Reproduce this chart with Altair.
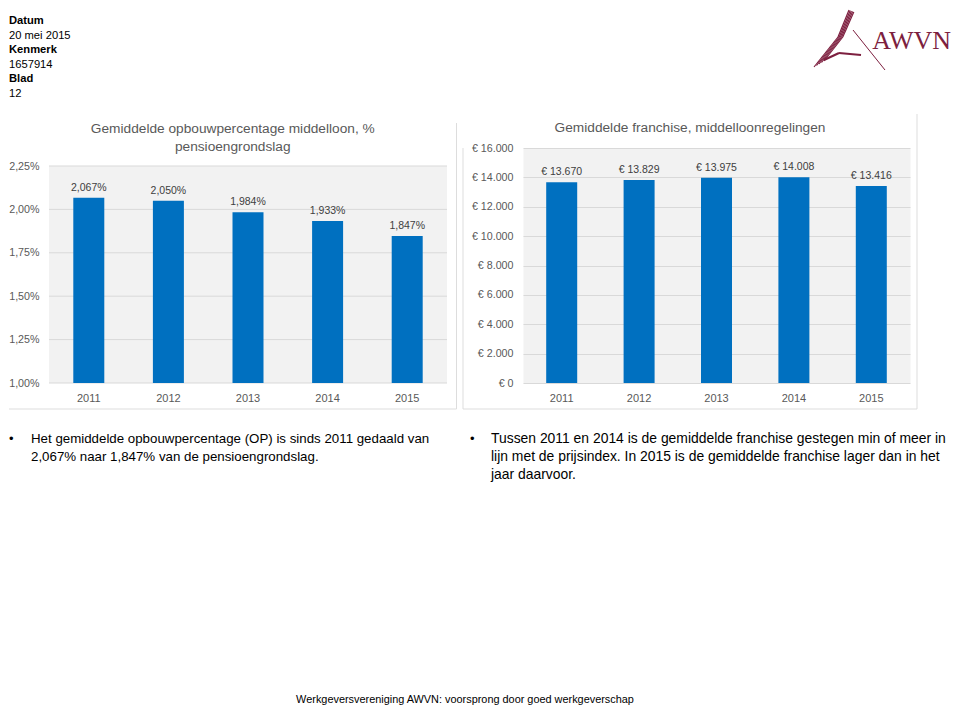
import altair as alt
import pandas as pd

FONT = "Liberation Sans"

# ---- data ----
years = ["2011", "2012", "2013", "2014", "2015"]
opbouw = [2.067, 2.050, 1.984, 1.933, 1.847]          # % pensioengrondslag
franchise = [13670, 13829, 13975, 14008, 13416]       # euro
opbouw_ticks = [1.00, 1.25, 1.50, 1.75, 2.00, 2.25]
franchise_ticks = [0, 2000, 4000, 6000, 8000, 10000, 12000, 14000, 16000]

title_left = ["Gemiddelde opbouwpercentage middelloon, %", "pensioengrondslag"]
title_right = "Gemiddelde franchise, middelloonregelingen"

header_labels = ["Datum", "Kenmerk", "Blad"]
header_values = ["20 mei 2015", "1657914", "12"]
logo_text = "AWVN"

bullet_left = ["Het gemiddelde opbouwpercentage (OP) is sinds 2011 gedaald van",
               "2,067% naar 1,847% van de pensioengrondslag."]
bullet_right = ["Tussen 2011 en 2014 is de gemiddelde franchise gestegen min of meer in",
                "lijn met de prijsindex. In 2015 is de gemiddelde franchise lager dan in het",
                "jaar daarvoor."]
footer_text = "Werkgeversvereniging AWVN: voorsprong door goed werkgeverschap"

BLUE = "#0070C0"
AXIS_GREY = "#595959"
LABEL_GREY = "#404040"
GRID = "#D9D9D9"
BG = "#F2F2F2"
FRAME = "#DDDDDD"
MAROON = "#7D1F3F"

ONE = pd.DataFrame({"a": [0]})


def txt(s, x, y, size=13, bold=False, color="black", align="left", font=FONT):
    return alt.Chart(pd.DataFrame({"t": [s]})).mark_text(
        align=align, baseline="middle", fontSize=size,
        fontWeight="bold" if bold else "normal", color=color, font=font
    ).encode(x=alt.value(x), y=alt.value(y), text="t:N")


def seg(x1, y1, x2, y2, w=1.0, color=MAROON):
    return alt.Chart(ONE).mark_rule(color=color, strokeWidth=w).encode(
        x=alt.value(x1), y=alt.value(y1), x2=alt.value(x2), y2=alt.value(y2))


def xaxis():
    return alt.X("jaar:N", sort=years, title=None,
                 scale=alt.Scale(paddingInner=0, paddingOuter=0),
                 axis=alt.Axis(labelAngle=0, ticks=False, domain=False,
                               labelPadding=9, labelFontSize=11,
                               labelColor=AXIS_GREY, labelFont=FONT))


# ---- header (origin is aligned with the left plot edge, ~page x 48) ----
hdr = []
for i, (lab, val) in enumerate(zip(header_labels, header_values)):
    hdr.append(txt(lab, -40, 11 + i * 29, size=11.2, bold=True))
    hdr.append(txt(val, -40, 25.5 + i * 29, size=11.2))
hdr.append(txt(logo_text, 902, 31, size=26, color=MAROON, align="right",
               font="Liberation Serif"))
# simple rendition of the logo swoosh
for k in range(5):
    p0 = (800 + k * 1.2, 0 + k * 0.5)
    p1 = (789 + k * 1.2, 27)
    p2 = (765 + k * 2.5, 57 - k * 1.5)
    hdr.append(seg(p0[0], p0[1], p1[0], p1[1], 1.2))
    hdr.append(seg(p1[0], p1[1], p2[0], p2[1], 1.2))
hdr += [
    seg(775, 50, 790, 43, 2.2), seg(790, 43, 812, 45, 2.2),
    seg(804, 20, 836, 60, 1.0),
]
header = alt.layer(*hdr).properties(width=902, height=102)


def yaxis(ticks, expr, grid=True):
    return alt.Axis(values=ticks, grid=grid, gridColor=GRID,
                    domain=False, ticks=False, labelPadding=10,
                    labelOverlap=False, labelFontSize=10.7,
                    labelColor=AXIS_GREY, labelFont=FONT, labelExpr=expr)


# ---- left chart ----
# plot area is shared in height with the right chart; the grey panel only
# covers 1,00% .. 2,25%, the space above is taken by the two-line title
L_TOP = 2.25 + 0.25 * 18 / 43.4
y_l = alt.Y("v:Q", title=None,
            scale=alt.Scale(domain=[1.0, L_TOP], nice=False, zero=False),
            axis=yaxis(opbouw_ticks,
                       "replace(format(datum.value, '.2f'), '.', ',') + '%'",
                       grid=False))
df_l = pd.DataFrame({"jaar": years, "v": opbouw})
panel_l = alt.Chart(ONE).mark_rect(color=BG).encode(
    x=alt.value(0), x2=alt.value("width"), y=alt.datum(1.0), y2=alt.datum(2.25))
grid_l = alt.Chart(pd.DataFrame({"v": opbouw_ticks})).mark_rule(
    color=GRID, strokeWidth=1).encode(y=y_l, x=alt.value(0), x2=alt.value("width"))
base_l = alt.Chart(df_l).transform_calculate(
    lbl="replace(format(datum.v, '.3f'), '.', ',') + '%'"
).encode(x=xaxis(), y=y_l)
bars_l = base_l.mark_bar(size=31, color=BLUE).encode(y2=alt.datum(1.0))
lbl_l = base_l.mark_text(dy=-10, baseline="middle", fontSize=10.5,
                         color=LABEL_GREY, font=FONT).encode(text="lbl:N")
frame_l = [seg(407.5, -25, 407.5, 261, 1, FRAME), seg(-40, 261, 407.5, 261, 1, FRAME)]
left = alt.layer(panel_l, grid_l, bars_l, lbl_l, *frame_l).properties(
    width=398, height=235,
    title=alt.TitleParams(text=title_left, fontSize=13.7, font=FONT,
                          fontWeight="normal", color=AXIS_GREY, anchor="middle",
                          frame="bounds", lineHeight=18, offset=-31),
)

# ---- right chart ----
y_r = alt.Y("v:Q", title=None,
            scale=alt.Scale(domain=[0, 16000], nice=False),
            axis=yaxis(franchise_ticks,
                       "'€ ' + replace(format(datum.value, ',d'), ',', '.')"))
df_r = pd.DataFrame({"jaar": years, "v": franchise})
base_r = alt.Chart(df_r).transform_calculate(
    lbl="'€ ' + replace(format(datum.v, ',d'), ',', '.')"
).encode(x=xaxis(), y=y_r)
bars_r = base_r.mark_bar(size=31, color=BLUE)
lbl_r = base_r.mark_text(dy=-10, baseline="middle", fontSize=10.5,
                         color=LABEL_GREY, font=FONT).encode(text="lbl:N")
frame_r = [seg(-60, 0, -60, 261, 1, FRAME), seg(394, -34, 394, 261, 1, FRAME),
           seg(-60, 261, 394, 261, 1, FRAME)]
right = alt.layer(bars_r, lbl_r, *frame_r).properties(
    width=387, height=235,
    view=alt.ViewBackground(fill=BG, stroke="transparent"),
    title=alt.TitleParams(text=title_right, fontSize=13.7, font=FONT,
                          fontWeight="normal", color=AXIS_GREY, anchor="middle",
                          frame="bounds", offset=-21),
)

charts = alt.concat(left, right, columns=2, spacing=4, align="none")

# ---- bullets + footer ----
BY = 27.5
bl = [txt("•", -40, BY, size=13)]
for i, line in enumerate(bullet_left):
    bl.append(txt(line, -18, BY + i * 18, size=13.3))
bl.append(txt("•", 421, BY, size=13))
for i, line in enumerate(bullet_right):
    bl.append(txt(line, 442, BY + i * 18, size=13.9))
bl.append(txt(footer_text, 416, 288.5, size=10.9, align="center"))
bullets = alt.layer(*bl).properties(width=900, height=285)

chart = alt.concat(header, charts, bullets, columns=1, spacing=0,
                   align="none").properties(padding=0).configure(
    font=FONT).configure_view(stroke="transparent")

chart.save("out.html", embed_options={"renderer": "svg", "actions": False})
